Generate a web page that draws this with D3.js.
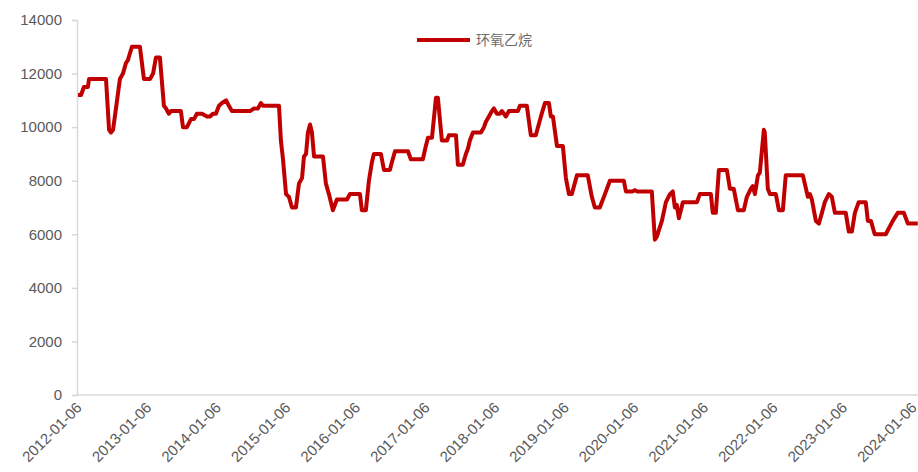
<!DOCTYPE html>
<html>
<head>
<meta charset="utf-8">
<script src="https://cdn.jsdelivr.net/npm/d3@7"></script>
<style>
  body { margin: 0; background: #fff; }
  text { font-family: Arial, "Liberation Sans", sans-serif; }
</style>
</head>
<body>
<div id="chart"></div>
<script>
// 环氧乙烷 price, turning points
var dates = [
  "2012-01-06","2012-01-22","2012-02-06","2012-02-27","2012-03-04","2012-06-01","2012-06-17","2012-06-27",
  "2012-07-08","2012-07-29","2012-08-13","2012-08-29","2012-09-14","2012-09-24","2012-10-15","2012-11-26",
  "2012-12-17","2013-01-18","2013-02-03","2013-02-18","2013-03-11","2013-04-01","2013-04-12","2013-04-27",
  "2013-05-08","2013-06-29","2013-07-10","2013-07-31","2013-08-21","2013-09-06","2013-09-21","2013-10-18",
  "2013-11-13","2013-11-29","2013-12-14","2013-12-30","2014-01-15","2014-01-31","2014-02-21","2014-03-08",
  "2014-03-24","2014-06-27","2014-07-18","2014-08-08","2014-08-23","2014-09-03","2014-11-26","2014-12-06",
  "2014-12-17","2015-01-02","2015-01-17","2015-02-02","2015-02-23","2015-03-11","2015-03-27","2015-04-06",
  "2015-04-17","2015-04-27","2015-05-08","2015-05-18","2015-05-29","2015-07-15","2015-07-30","2015-08-15",
  "2015-09-05","2015-09-26","2015-11-18","2015-12-03","2016-01-25","2016-02-04","2016-02-25","2016-03-12",
  "2016-03-28","2016-04-07","2016-05-14","2016-05-30","2016-06-30","2016-07-11","2016-07-27","2016-10-03",
  "2016-10-18","2016-12-20","2017-01-05","2017-01-16","2017-02-06","2017-02-27","2017-03-09","2017-03-30",
  "2017-04-26","2017-05-06","2017-06-12","2017-06-22","2017-07-18","2017-08-03","2017-08-14","2017-08-24",
  "2017-09-09","2017-10-21","2017-11-06","2017-11-16","2017-12-02","2017-12-18","2017-12-28","2018-01-13",
  "2018-01-28","2018-02-08","2018-03-01","2018-03-17","2018-05-03","2018-05-14","2018-06-19","2018-07-10",
  "2018-08-05","2018-09-01","2018-09-22","2018-10-13","2018-10-23","2018-11-03","2018-11-24","2018-12-25",
  "2019-01-10","2019-01-26","2019-02-10","2019-03-09","2019-05-05","2019-05-26","2019-06-11","2019-07-07",
  "2019-08-03","2019-08-29","2019-11-10","2019-11-21","2019-12-27","2020-01-07","2020-01-18","2020-04-05",
  "2020-04-21","2020-05-01","2020-05-28","2020-06-18","2020-07-09","2020-07-24","2020-08-04","2020-08-14",
  "2020-08-25","2020-09-15","2020-11-28","2020-12-13","2021-02-09","2021-02-19","2021-03-07","2021-03-23",
  "2021-05-04","2021-05-20","2021-06-09","2021-07-01","2021-08-01","2021-08-17","2021-09-07","2021-09-17",
  "2021-09-28","2021-10-14","2021-10-24","2021-11-14","2021-11-19","2021-12-05","2021-12-16","2022-01-16",
  "2022-02-01","2022-02-22","2022-03-09","2022-06-07","2022-07-03","2022-07-14","2022-07-24","2022-08-14",
  "2022-08-30","2022-09-15","2022-09-30","2022-10-21","2022-11-06","2022-11-22","2023-01-18","2023-02-03",
  "2023-02-19","2023-03-07","2023-03-27","2023-05-03","2023-05-14","2023-05-30","2023-06-19","2023-08-16",
  "2023-09-22","2023-10-18","2023-11-19","2023-12-10","2024-01-31"
];
var prices = [
  11200,11200,11500,11500,11800,11800,9900,9800,
  9900,11000,11800,12000,12400,12500,13000,13000,
  11800,11800,12000,12600,12600,10800,10700,10500,
  10600,10600,10000,10000,10300,10300,10500,10500,
  10400,10400,10500,10500,10800,10900,11000,10800,
  10600,10600,10700,10700,10900,10800,10800,9500,
  8800,7500,7400,7000,7000,7900,8100,8900,
  9000,9800,10100,9800,8900,8900,7900,7500,
  6900,7300,7300,7500,7500,6900,6900,8000,
  8700,9000,9000,8400,8400,8700,9100,9100,
  8800,8800,9300,9600,9600,11100,11100,9500,
  9500,9700,9700,8600,8600,9000,9200,9500,
  9800,9800,10000,10200,10400,10600,10700,10500,
  10500,10600,10400,10600,10600,10800,10800,9700,
  9700,10400,10900,10900,10400,10400,9300,9300,
  8100,7500,7500,8200,8200,7400,7000,7000,
  7500,8000,8000,7600,7600,7650,7600,7600,
  5800,5900,6500,7200,7500,7600,7000,7100,
  6600,7200,7200,7500,7500,6800,6800,8400,
  8400,7700,7700,6900,6900,7400,7700,7800,
  7500,8200,8300,9900,9800,7700,7500,7500,
  6900,6900,8200,8200,7400,7500,7300,6500,
  6400,6800,7200,7500,7400,6800,6800,6100,
  6100,6800,7200,7200,6500,6500,6000,6000,
  6500,6800,6800,6400,6400
];
var tickDates = ["2012-01-06","2013-01-06","2014-01-06","2015-01-06","2016-01-06","2017-01-06",
  "2018-01-06","2019-01-06","2020-01-06","2021-01-06","2022-01-06","2023-01-06","2024-01-06"];
var yTicks = [0, 2000, 4000, 6000, 8000, 10000, 12000, 14000];
var seriesName = "环氧乙烷";

var parse = d3.timeParse("%Y-%m-%d");
var data = dates.map(function(d, i) { return {date: parse(d), value: prices[i]}; });

var width = 918, height = 472;
var x0 = 77, yTop = 20, yBottom = 395;

var svg = d3.select("#chart").append("svg")
    .attr("width", width)
    .attr("height", height);

var x = d3.scaleTime()
    .domain([parse(tickDates[0]), parse(tickDates[tickDates.length - 1])])
    .range([78, 913]);

var y = d3.scaleLinear()
    .domain([0, 14000])
    .range([yBottom, yTop]);

// y axis
var yAxis = svg.append("g")
    .attr("transform", "translate(" + x0 + ",0)")
    .call(d3.axisLeft(y).tickValues(yTicks).tickSize(5).tickPadding(10).tickFormat(d3.format("d")));
yAxis.select(".domain").attr("stroke", "#d9d9d9").attr("stroke-width", 1.5);
yAxis.selectAll(".tick line").attr("stroke", "#d9d9d9").attr("stroke-width", 1.5);
yAxis.selectAll(".tick text")
    .style("fill", "#595959")
    .style("font-size", "15px");

// x axis
svg.append("line")
    .attr("x1", x0).attr("x2", width)
    .attr("y1", yBottom).attr("y2", yBottom)
    .attr("stroke", "#d9d9d9")
    .attr("stroke-width", 1.5);

svg.append("g").selectAll("text")
    .data(tickDates)
    .enter().append("text")
    .attr("transform", function(d) { return "translate(" + (x(parse(d)) + 1) + "," + (yBottom + 10) + ") rotate(-45)"; })
    .attr("text-anchor", "end")
    .attr("dy", "0.35em")
    .style("fill", "#595959")
    .style("font-size", "15px")
    .text(function(d) { return d; });

// series line
var line = d3.line()
    .x(function(d) { return x(d.date); })
    .y(function(d) { return y(d.value); });

svg.append("path")
    .datum(data)
    .attr("fill", "none")
    .attr("stroke", "#c00000")
    .attr("stroke-width", 4)
    .attr("stroke-linejoin", "round")
    .attr("d", line);

// legend
svg.append("line")
    .attr("x1", 417).attr("x2", 470)
    .attr("y1", 40).attr("y2", 40)
    .attr("stroke", "#c00000")
    .attr("stroke-width", 4);

svg.append("text")
    .attr("x", 476)
    .attr("y", 40)
    .attr("dy", "0.35em")
    .style("fill", "#6b6b6b")
    .style("font-size", "14px")
    .style("font-family", "'Noto Sans CJK SC', sans-serif")
    .text(seriesName);
</script>
</body>
</html>
